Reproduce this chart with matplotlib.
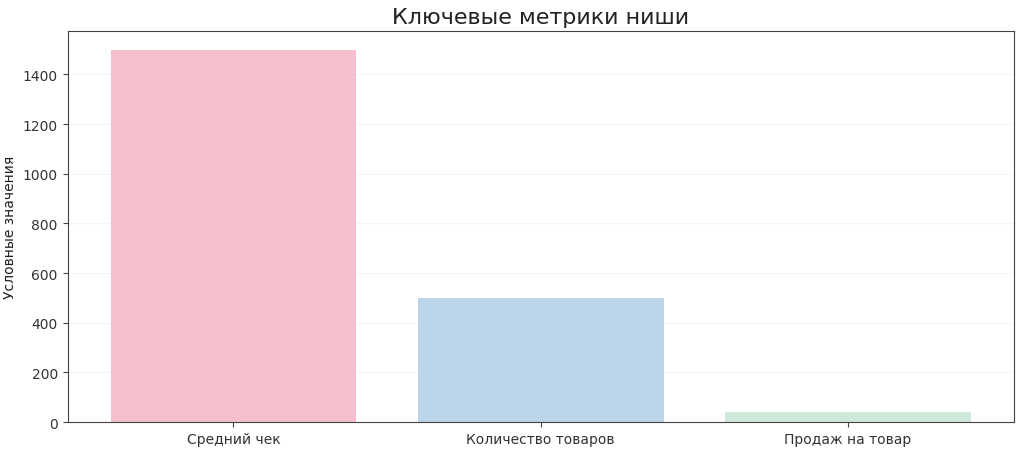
import matplotlib; matplotlib.use("Agg")
import matplotlib.pyplot as plt

metrics = ["Средний чек", "Количество товаров", "Продаж на товар"]
values = [1500, 500, 42]
colors = ["#f5bfce", "#bbd5ea", "#cfe8d9"]

fig, ax = plt.subplots(figsize=(10.24, 4.56), dpi=100)
ax.bar(metrics, values, color=colors, width=0.8)
ax.set_title("Ключевые метрики ниши", fontsize=16, color="#222222")
ax.set_ylabel("Условные значения", fontsize=10, color="#222222")
ax.grid(axis="y", alpha=0.3, color="#dddddd")
ax.set_axisbelow(True)
ax.tick_params(labelsize=10, labelcolor="#333333", color="#444444")
for s in ax.spines.values():
    s.set_color("#444444")

fig.subplots_adjust(left=0.066, right=0.990, top=0.93, bottom=0.072)
fig.savefig("out.png", dpi=100)
